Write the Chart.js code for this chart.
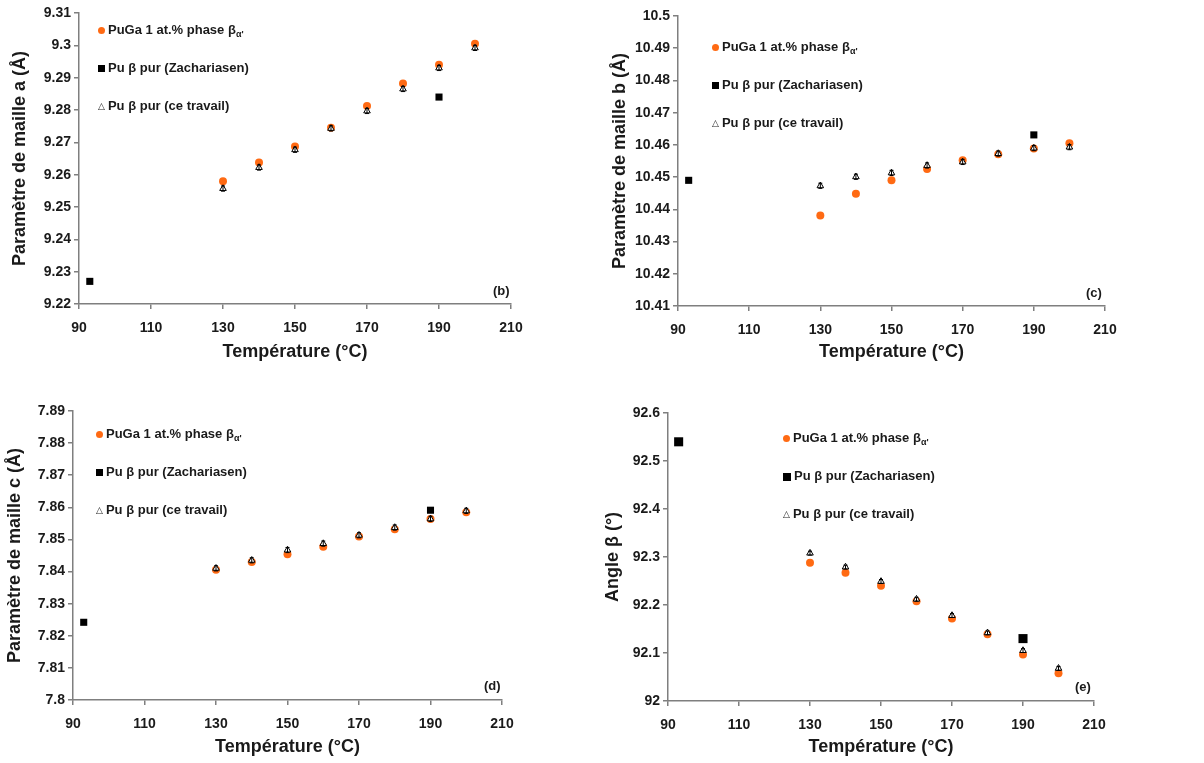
<!DOCTYPE html>
<html>
<head>
<meta charset="utf-8">
<script src="https://cdn.jsdelivr.net/npm/chart.js@4"></script>
<style>
body { margin:0; width:1204px; height:763px; background:#fff; position:relative; overflow:hidden;
       font-family:'Liberation Sans', Arial, sans-serif; }
.box { position:absolute; }
.leg { position:absolute; font-weight:bold; font-size:13px; color:#1a1a1a; white-space:nowrap; line-height:14px; }
.leg sub { font-size:9px; vertical-align:-3px; }
.mk { display:inline-block; margin-right:3px; vertical-align:middle; }
.dot { width:7px; height:7px; border-radius:50%; background:#ff6a13; }
.sq { background:#000; }
.tri { font-size:9px; font-family:'DejaVu Sans'; vertical-align:1px; }
.tag { position:absolute; font-weight:bold; font-size:13px; color:#1a1a1a; }
</style>
</head>
<body>
<script>
// temperatures (°C)
const temps = [130, 140, 150, 160, 170, 180, 190, 200];
const zachTemps = [93, 190];

// series names
const nameAlloy = "PuGa 1 at.% phase β<sub>α'</sub>";
const nameZach = "Pu β pur (Zachariasen)";
const nameWork = "Pu β pur (ce travail)";

// (b) parametre a
const aAlloy = [9.2580, 9.2638, 9.2687, 9.2745, 9.2812, 9.2882, 9.2940, 9.3005];
const aWork  = [9.2557, 9.2622, 9.2677, 9.2743, 9.2797, 9.2865, 9.2930, 9.2992];
const aZach  = [9.2270, 9.2840];
const aErr   = [0.0008, 0.0008, 0.0008, 0.0008, 0.0008, 0.0008, 0.0008, 0.0008];
const aTicks = [9.22, 9.23, 9.24, 9.25, 9.26, 9.27, 9.28, 9.29, 9.3, 9.31];

// (c) parametre b
const bAlloy = [10.4381, 10.4448, 10.4490, 10.4525, 10.4552, 10.4571, 10.4589, 10.4605];
const bWork  = [10.4473, 10.4501, 10.4513, 10.4536, 10.4547, 10.4573, 10.4590, 10.4593];
const bZach  = [10.4490, 10.4631];
const bErr   = [0.0008, 0.0008, 0.0008, 0.0008, 0.0008, 0.0008, 0.0008, 0.0008];
const bTicks = [10.41, 10.42, 10.43, 10.44, 10.45, 10.46, 10.47, 10.48, 10.49, 10.5];

// (d) parametre c
const cAlloy = [7.8406, 7.8430, 7.8454, 7.8477, 7.8509, 7.8532, 7.8564, 7.8585];
const cWork  = [7.8410, 7.8435, 7.8467, 7.8487, 7.8513, 7.8537, 7.8564, 7.8589];
const cZach  = [7.8242, 7.8591];
const cErr   = [0.0008, 0.0008, 0.0008, 0.0008, 0.0008, 0.0008, 0.0008, 0.0008];
const cTicks = [7.8, 7.81, 7.82, 7.83, 7.84, 7.85, 7.86, 7.87, 7.88, 7.89];

// (e) angle beta
const eAlloy = [92.288, 92.267, 92.240, 92.208, 92.172, 92.139, 92.097, 92.058];
const eWork  = [92.308, 92.279, 92.249, 92.212, 92.178, 92.142, 92.105, 92.068];
const eZach  = [92.540, 92.130];
const eErr   = [0.004, 0.004, 0.004, 0.004, 0.004, 0.004, 0.004, 0.004];
const eTicks = [92, 92.1, 92.2, 92.3, 92.4, 92.5, 92.6];

const xTicks = [90, 110, 130, 150, 170, 190, 210];

const panels = [
  { box:[0, 0, 560, 372], plot:[79, 511, 13, 304], yt:9, xt:9,
    ytitle:'Paramètre de maille a (Å)', tag:'(b)', tagPos:[493, 283],
    alloy:aAlloy, work:aWork, zach:aZach, err:aErr, ticks:aTicks, sq:5,
    leg:[102, 30, 38] },
  { box:[600, 0, 560, 372], plot:[678, 1105, 16, 306], yt:9, xt:9,
    ytitle:'Paramètre de maille b (Å)', tag:'(c)', tagPos:[1086, 285],
    alloy:bAlloy, work:bWork, zach:bZach, err:bErr, ticks:bTicks, sq:5,
    leg:[716, 47, 38] },
  { box:[0, 390, 560, 373], plot:[73, 502, 411, 700], yt:4, xt:5,
    ytitle:'Paramètre de maille c (Å)', tag:'(d)', tagPos:[484, 678],
    alloy:cAlloy, work:cWork, zach:cZach, err:cErr, ticks:cTicks, sq:5,
    leg:[100, 434, 38] },
  { box:[600, 390, 560, 373], plot:[668, 1094, 413, 701], yt:2, xt:5,
    ytitle:'Angle β (°)', tag:'(e)', tagPos:[1075, 679],
    alloy:eAlloy, work:eWork, zach:eZach, err:eErr, ticks:eTicks, sq:6.4,
    leg:[787, 438, 38] }
];

const axisGrey = '#7f7f7f';
const txt = '#1a1a1a';

function pts(xs, ys) {
  return xs.map((x, i) => ({ x: x, y: ys[i] }));
}

// small vertical error bars on the "ce travail" points
const errBars = {
  id: 'errBars',
  afterDatasetsDraw(chart) {
    const ctx = chart.ctx;
    const ys = chart.scales.y;
    chart.data.datasets.forEach((ds, di) => {
      if (!ds.errors) return;
      const meta = chart.getDatasetMeta(di);
      ctx.save();
      ctx.strokeStyle = '#000';
      ctx.lineWidth = 1;
      meta.data.forEach((pt, i) => {
        const v = ds.data[i].y, e = ds.errors[i];
        const y1 = ys.getPixelForValue(v + e), y2 = ys.getPixelForValue(v - e);
        ctx.beginPath();
        ctx.moveTo(pt.x, y1); ctx.lineTo(pt.x, y2);
        ctx.moveTo(pt.x - 2, y1); ctx.lineTo(pt.x + 2, y1);
        ctx.moveTo(pt.x - 2, y2); ctx.lineTo(pt.x + 2, y2);
        ctx.stroke();
      });
      ctx.restore();
    });
  }
};

function makePanel(p) {
  const [bl, bt, bw, bh] = p.box;
  const [pl, pr, pt, pb] = p.plot;
  const div = document.createElement('div');
  div.className = 'box';
  div.style.left = bl + 'px'; div.style.top = bt + 'px';
  div.style.width = bw + 'px'; div.style.height = bh + 'px';
  const cv = document.createElement('canvas');
  cv.width = bw; cv.height = bh;
  div.appendChild(cv);
  document.body.appendChild(div);

  const yW = pl - bl, xH = bt + bh - pb;
  const yMin = p.ticks[0], yMax = p.ticks[p.ticks.length - 1];

  new Chart(cv, {
    type: 'scatter',
    data: {
      datasets: [
        { label: nameAlloy, data: pts(temps, p.alloy), pointStyle: 'circle', pointRadius: 4,
          backgroundColor: '#ff6a13', borderColor: '#ff6a13', borderWidth: 0, order: 2 },
        { label: nameZach, data: pts(zachTemps, p.zach), pointStyle: 'rect', pointRadius: p.sq,
          backgroundColor: '#000', borderColor: '#000', borderWidth: 0, order: 1 },
        { label: nameWork, data: pts(temps, p.work), pointStyle: 'triangle', pointRadius: 3.8,
          backgroundColor: '#fff', borderColor: '#000', borderWidth: 1, order: 0, errors: p.err }
      ]
    },
    options: {
      responsive: false,
      animation: false,
      layout: { padding: { left: 0, right: bl + bw - pr, top: pt - bt, bottom: 0 } },
      plugins: { legend: { display: false }, tooltip: { enabled: false } },
      scales: {
        x: {
          type: 'linear', min: 90, max: 210,
          afterBuildTicks: s => { s.ticks = xTicks.map(v => ({ value: v })); },
          afterFit: s => { s.height = xH; },
          ticks: { color: txt, padding: 11, font: { family: 'Liberation Sans', weight: 'bold', size: 14 } },
          grid: { drawOnChartArea: false, drawTicks: true, tickLength: 5, color: axisGrey, lineWidth: 1.5 },
          border: { color: axisGrey, width: 1.5 },
          title: { display: true, text: 'Température (°C)', color: txt, padding: { top: 0, bottom: p.xt },
                   font: { family: 'Liberation Sans', weight: 'bold', size: 18 } }
        },
        y: {
          type: 'linear', min: yMin, max: yMax,
          afterBuildTicks: s => { s.ticks = p.ticks.map(v => ({ value: v })); },
          afterFit: s => { s.width = yW; },
          ticks: { color: txt, padding: 3, callback: v => String(v),
                   font: { family: 'Liberation Sans', weight: 'bold', size: 14 } },
          grid: { drawOnChartArea: false, drawTicks: true, tickLength: 5, color: axisGrey, lineWidth: 1.5 },
          border: { color: axisGrey, width: 1.5 },
          title: { display: true, text: p.ytitle, color: txt, padding: { top: p.yt, bottom: 0 },
                   font: { family: 'Liberation Sans', weight: 'bold', size: 18 } }
        }
      }
    },
    plugins: [errBars]
  });

  // legend inside the plot area
  const [lx, ly, step] = p.leg;
  const rows = [
    ['<span class="mk dot"></span>', nameAlloy],
    ['<span class="mk sq" style="width:' + Math.round(p.sq * 1.3) + 'px;height:' + Math.round(p.sq * 1.3) + 'px"></span>', nameZach],
    ['<span class="mk tri">△</span>', nameWork]
  ];
  rows.forEach((r, i) => {
    const el = document.createElement('div');
    el.className = 'leg';
    el.style.left = (lx - 4) + 'px';
    el.style.top = (ly + i * step - 7) + 'px';
    el.innerHTML = r[0] + r[1];
    document.body.appendChild(el);
  });

  const tag = document.createElement('div');
  tag.className = 'tag';
  tag.style.left = p.tagPos[0] + 'px';
  tag.style.top = p.tagPos[1] + 'px';
  tag.textContent = p.tag;
  document.body.appendChild(tag);
}

panels.forEach(makePanel);
</script>
</body>
</html>
